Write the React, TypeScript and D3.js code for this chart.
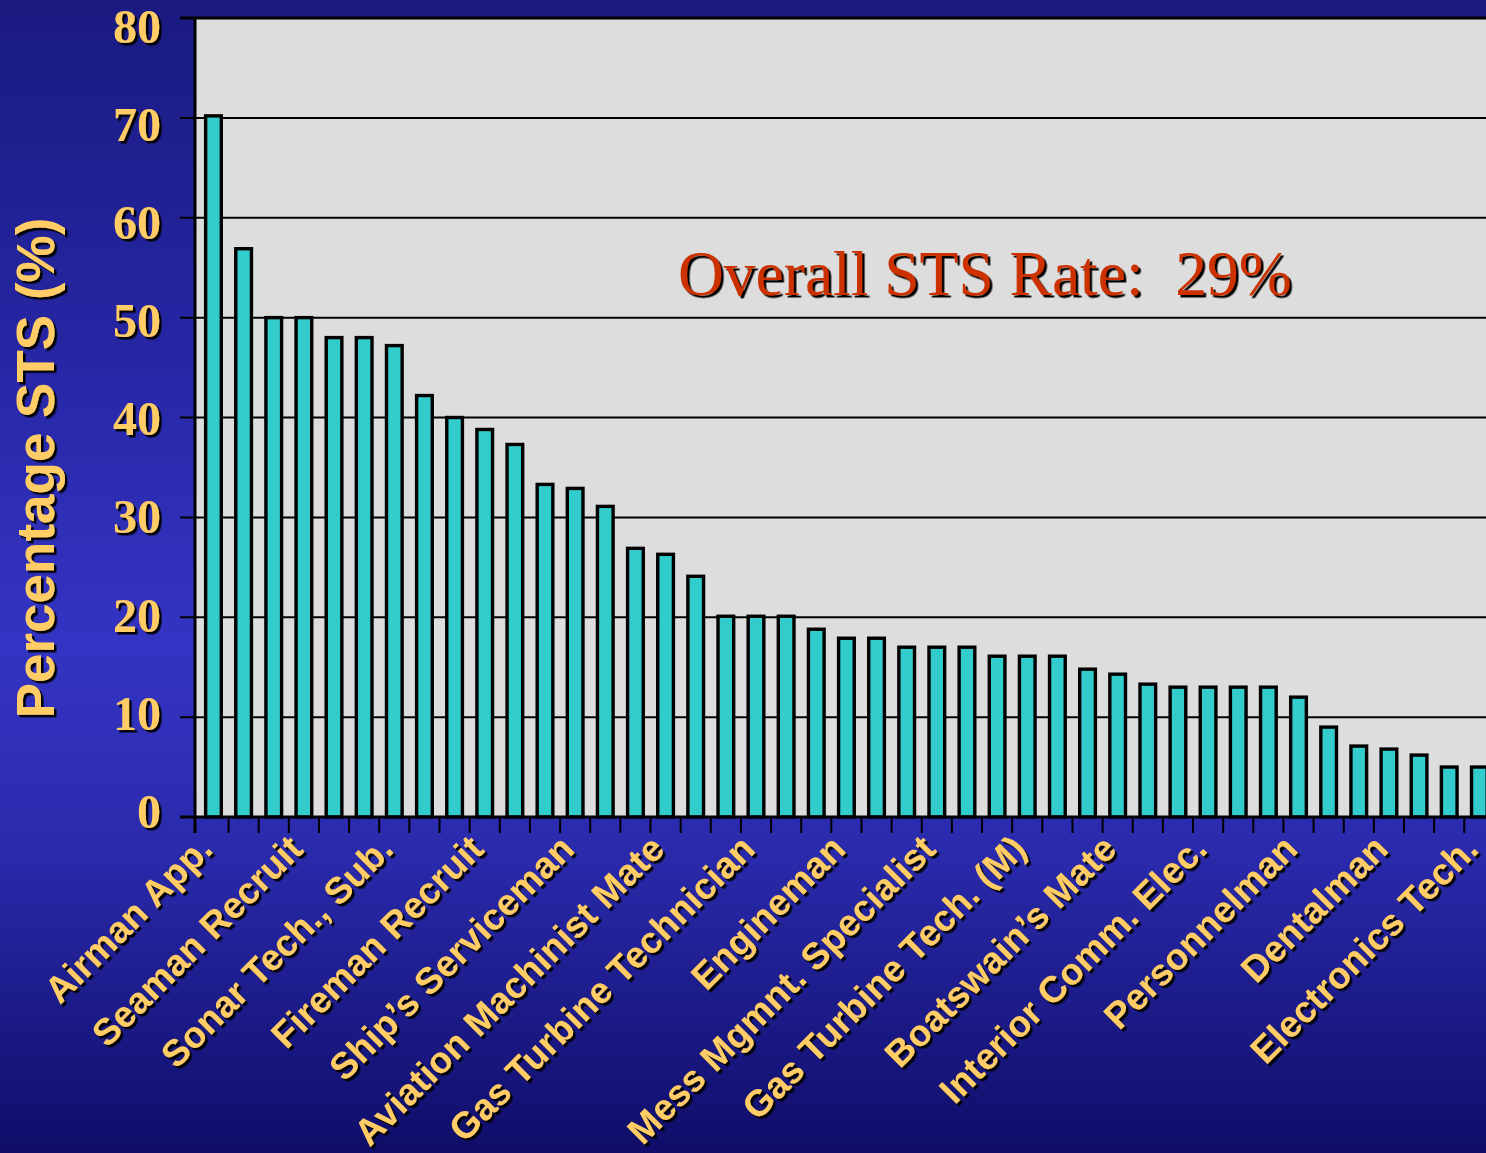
import React from "react";
import * as d3 from "d3";

const values: number[] = [
  70.2, 56.9, 50.0, 50.0, 48.0, 48.0, 47.2, 42.2, 40.0, 38.8,
  37.3, 33.3, 32.9, 31.1, 26.9, 26.3, 24.1, 20.1, 20.1, 20.1,
  18.8, 17.9, 17.9, 17.0, 17.0, 17.0, 16.1, 16.1, 16.1, 14.8,
  14.3, 13.3, 13.0, 13.0, 13.0, 13.0, 12.0, 9.0, 7.1, 6.8,
  6.2, 5.0, 5.0,
];

// Only every third category is labelled in the original chart
const categoryLabels: string[] = [
  "Airman App.", "", "", "Seaman Recruit", "", "", "Sonar Tech., Sub.", "", "",
  "Fireman Recruit", "", "", "Ship\u2019s Serviceman", "", "", "Aviation Machinist Mate", "", "",
  "Gas Turbine Technician", "", "", "Engineman", "", "", "Mess Mgmnt. Specialist", "", "",
  "Gas Turbine Tech. (M)", "", "", "Boatswain\u2019s Mate", "", "", "Interior Comm. Elec.", "", "",
  "Personnelman", "", "", "Dentalman", "", "", "Electronics Tech.",
];

const yTicks: number[] = [0, 10, 20, 30, 40, 50, 60, 70, 80];
const yTitle = "Percentage STS (%)";
const annotation = "Overall STS Rate:\u00a0\u00a029%";

const W = 1486;
const H = 1153;
const GOLD = "#ffcc66";

export default function App() {
  const n = values.length;
  const step = 30.14;
  const x0 = 198.4;
  const x = d3
    .scaleBand<number>()
    .domain(d3.range(n))
    .range([x0, x0 + n * step])
    .paddingInner(0.48)
    .paddingOuter(0.24);
  const y = d3.scaleLinear().domain([0, 80]).range([817, 18]);
  const yLab = d3.scaleLinear().domain([0, 80]).range([813, 28]);
  const plotLeft = 195;
  const plotRight = x0 + n * step;

  return (
    <svg
      width={W}
      height={H}
      style={{ position: "absolute", left: 0, top: 0, display: "block" }}
    >
      <defs>
        <linearGradient id="bg" x1="0" y1="0" x2="0" y2="1">
          <stop offset="0" stopColor="#1a1a80" />
          <stop offset="0.3" stopColor="#2626a4" />
          <stop offset="0.56" stopColor="#3434c4" />
          <stop offset="0.74" stopColor="#2a2aac" />
          <stop offset="1" stopColor="#0f0d68" />
        </linearGradient>
        <filter id="sh" x="-5%" y="-20%" width="110%" height="140%">
          <feDropShadow dx="2.5" dy="2.5" stdDeviation="0.4" floodColor="#000" floodOpacity="1" />
        </filter>
        <clipPath id="clip">
          <rect x={0} y={0} width={W} height={H} />
        </clipPath>
      </defs>
      <rect x={0} y={0} width={W} height={H} fill="url(#bg)" />
      <g clipPath="url(#clip)">
        {/* plot area */}
        <rect
          x={plotLeft}
          y={y(80)}
          width={plotRight - plotLeft}
          height={y(0) - y(80)}
          fill="#dddddd"
        />
        {/* grid lines */}
        {yTicks.map((t) => (
          <line
            key={"g" + t}
            x1={plotLeft - 15}
            x2={plotRight}
            y1={y(t)}
            y2={y(t)}
            stroke="#000"
            strokeWidth={t === 80 ? 3 : 2}
          />
        ))}
        {/* bars */}
        {values.map((v, i) => (
          <rect
            key={"b" + i}
            x={x(i)!}
            y={y(v)}
            width={x.bandwidth()}
            height={y(0) - y(v)}
            fill="#33cccc"
            stroke="#000"
            strokeWidth={3.4}
          />
        ))}
        {/* y axis */}
        <line x1={plotLeft} x2={plotLeft} y1={y(80)} y2={833} stroke="#000" strokeWidth={3} />
        {/* x axis */}
        <line x1={plotLeft - 15} x2={plotRight} y1={y(0)} y2={y(0)} stroke="#000" strokeWidth={3} />
        {d3.range(1, n + 1).map((i) => (
          <line
            key={"t" + i}
            x1={x0 + i * step}
            x2={x0 + i * step}
            y1={y(0)}
            y2={833}
            stroke="#000"
            strokeWidth={2}
          />
        ))}
        {/* y tick labels */}
        <g fontFamily="'Liberation Serif', 'Times New Roman', serif" fontWeight="bold" fontSize={48} textAnchor="end" filter="url(#sh)">
          {yTicks.map((t) => (
            <text key={"yl" + t} x={161} y={yLab(t) - 2} dy="0.35em" fill={GOLD}>{t}</text>
          ))}
        </g>
        {/* y title */}
        <g fontFamily="'Liberation Sans', Arial, sans-serif" fontWeight="bold" fontSize={53} textAnchor="middle" filter="url(#sh)">
          <text transform={`translate(54,468) rotate(-90)`} fill={GOLD}>{yTitle}</text>
        </g>
        {/* x labels */}
        <g fontFamily="'Liberation Sans', Arial, sans-serif" fontWeight="bold" fontSize={37} textAnchor="end" filter="url(#sh)">
          {categoryLabels.map((lab, i) =>
            lab ? (
              <text key={"xl" + i} transform={`translate(${x(i)! + x.bandwidth() / 2 + 1},${851}) rotate(-45)`} fill={GOLD}>{lab}</text>
            ) : null
          )}
        </g>
        {/* annotation */}
        <g fontFamily="'Liberation Serif', 'Times New Roman', serif" fontSize={63.5} filter="url(#sh)">
          <text x={678} y={295} fill="#cc3300">{annotation}</text>
        </g>
      </g>
    </svg>
  );
}
